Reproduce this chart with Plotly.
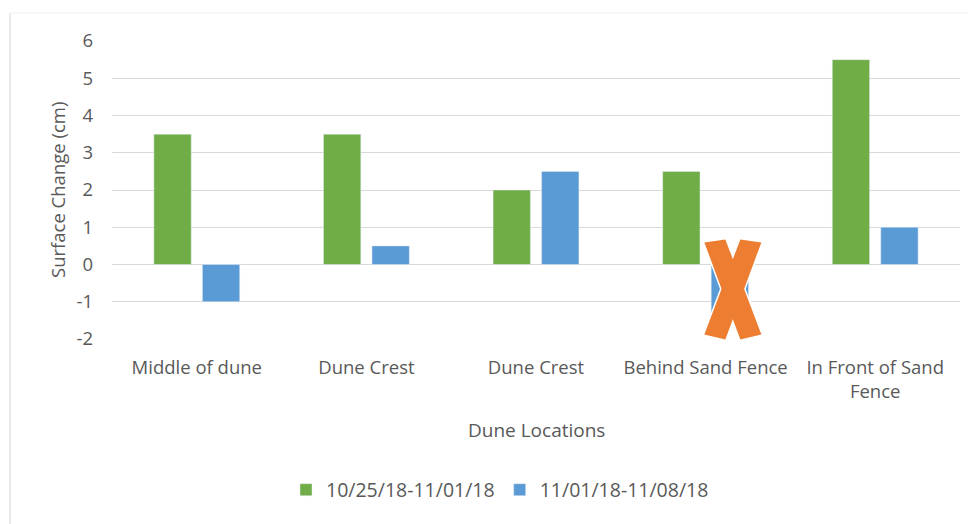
import plotly.graph_objects as go

categories = ["Middle of dune", "Dune Crest", "Dune Crest", "Behind Sand Fence", "In Front of Sand<br>Fence"]
series_names = ["10/25/18-11/01/18", "11/01/18-11/08/18"]
week1 = [3.5, 3.5, 2.0, 2.5, 5.5]
week2 = [-1.0, 0.5, 2.5, -1.5, 1.0]
y_ticks = [-2, -1, 0, 1, 2, 3, 4, 5, 6]
y_tick_labels = ["-2", "-1", "0", "1", "2", "3", "4", "5", "6"]
crossed_index = 3  # category whose second-series bar is crossed out

GREEN = "#70AD47"
BLUE = "#5B9BD5"
ORANGE = "#ED7D31"
TXT = "#595959"
GRID = "#D9D9D9"
FONT = "Open Sans"
FS = 18.5
FS_LEG = 19.5

OFF = 8  # page body margin
W, H = 975 - OFF, 524 - OFF
# plot area in screen pixels: x 112..960, y 41..339
ML, MT = 112 - OFF, 41 - OFF
MR = W - (960 - OFF)
MB = H - (339 - OFF)
XR = [-0.5, len(categories) - 0.5]
YR = [-2, 6]
BARGAP = 0.428
BARGROUPGAP = 0.23
plot_w = W - ML - MR
plot_h = H - MT - MB


def sx(px):
    """screen x pixel -> paper"""
    return (px - OFF - ML) / plot_w


def sy(py):
    """screen y pixel -> paper"""
    return (H - MB - (py - OFF)) / plot_h


xs = list(range(len(categories)))

fig = go.Figure()
fig.add_trace(go.Bar(x=xs, y=week1, name=series_names[0], marker_color=GREEN))
fig.add_trace(go.Bar(x=xs, y=week2, name=series_names[1], marker_color=BLUE))


def dx_paper(v):
    return (v - XR[0]) / (XR[1] - XR[0])


def dy_paper(v):
    return (v - YR[0]) / (YR[1] - YR[0])


# centre of crossed blue bar (second slot of the group)
cx = crossed_index + (1 - BARGAP) / 4
cy = week2[crossed_index] / 2
hw, hh, sw = 28.5, 50, 21
shift_x, shift_y = 3, -3


def P(dx, dy):
    return (dx_paper(cx) + (dx + shift_x) / plot_w,
            dy_paper(cy) - (dy + shift_y) / plot_h)


def poly(pts):
    return "M " + " L ".join(f"{x:.5f},{y:.5f}" for x, y in pts) + " Z"


stroke1 = [P(-hw, -hh + 3), P(-hw + sw, -hh), P(hw, hh - 5), P(hw - sw, hh)]
stroke2 = [P(hw - sw, -hh), P(hw, -hh + 3), P(-hw + sw, hh), P(-hw, hh - 5)]
for s in (stroke1, stroke2):
    fig.add_shape(type="path", xref="paper", yref="paper", path=poly(s),
                  fillcolor=ORANGE, line=dict(color="white", width=3), layer="above")
for s in (stroke1, stroke2):
    fig.add_shape(type="path", xref="paper", yref="paper", path=poly(s),
                  fillcolor=ORANGE, line=dict(width=0), layer="above")

# chart frame remnants (left and top borders)
fig.add_shape(type="line", xref="paper", yref="paper",
              x0=sx(10), x1=sx(10), y0=sy(540), y1=sy(13),
              line=dict(color="#D4D4D4", width=1))
fig.add_shape(type="line", xref="paper", yref="paper",
              x0=sx(10), x1=sx(980), y0=sy(13), y1=sy(13),
              line=dict(color="#EFEFEF", width=1))

fig.add_annotation(text="Dune Locations", xref="paper", yref="paper",
                   x=sx(536), y=sy(430), xanchor="center", yanchor="middle",
                   showarrow=False, font=dict(family=FONT, size=19, color=TXT))
fig.add_annotation(text="Surface Change (cm)", xref="paper", yref="paper",
                   x=sx(57), y=0.5, xanchor="center", yanchor="middle",
                   textangle=-90, showarrow=False,
                   font=dict(family=FONT, size=FS, color=TXT))

fig.update_layout(
    width=W, height=H,
    margin=dict(l=ML, r=MR, t=MT, b=MB, autoexpand=False),
    paper_bgcolor="white", plot_bgcolor="white",
    barmode="group", bargap=BARGAP, bargroupgap=BARGROUPGAP,
    font=dict(family=FONT, size=FS, color=TXT),
    showlegend=True,
    legend=dict(orientation="h", x=sx(500), xanchor="center",
                y=sy(490), yanchor="middle",
                font=dict(family=FONT, size=FS_LEG, color=TXT),
                itemwidth=30, traceorder="normal"),
    xaxis=dict(range=XR, tickvals=xs, ticktext=categories, showgrid=False,
               zeroline=False, showline=False, ticks="", ticklabelstandoff=15,
               tickfont=dict(family=FONT, size=FS, color=TXT)),
    yaxis=dict(range=YR, tickvals=y_ticks, ticktext=y_tick_labels,
               showgrid=True, gridcolor=GRID,
               gridwidth=1, zeroline=True, zerolinecolor=GRID, zerolinewidth=1,
               showline=False, ticks="", ticklabelstandoff=18,
               tickfont=dict(family=FONT, size=FS, color=TXT)),
)

fig.write_html("out.html")
